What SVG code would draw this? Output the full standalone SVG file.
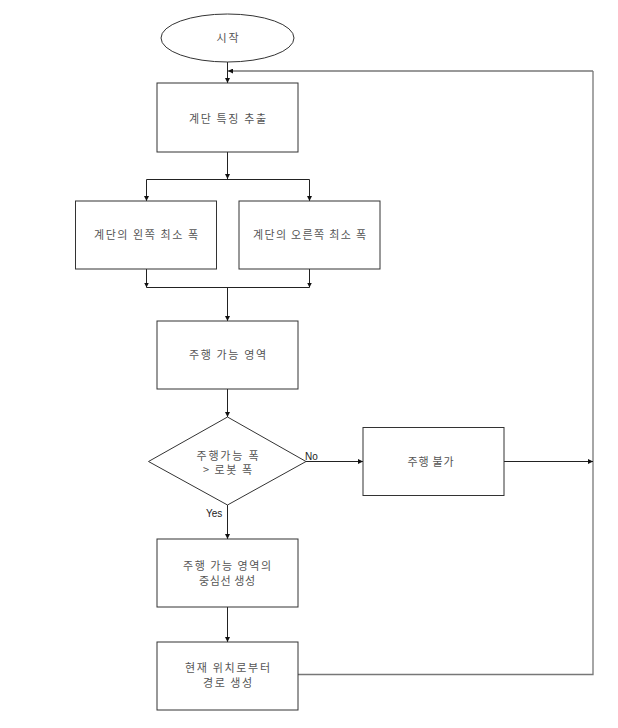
<svg xmlns="http://www.w3.org/2000/svg" width="618" height="728" viewBox="0 0 618 728">
<style>
.box{fill:#fff;stroke:#333;stroke-width:1}
.t{font-family:"Noto Sans CJK KR","Noto Sans",sans-serif;font-size:11px;fill:#555;text-anchor:middle}
.lbl{font-family:"Liberation Sans",Arial,sans-serif;font-size:10px;fill:#222}
.c{fill:none;stroke:#222;stroke-width:1}
.g{fill:none;stroke:#777;stroke-width:1.3}
</style>
<defs>
<marker id="a" markerWidth="5" markerHeight="5" refX="5" refY="2.5" orient="auto" markerUnits="userSpaceOnUse">
<path d="M0,0 L5,2.5 L0,5 z" fill="#111"/>
</marker>
</defs>
<rect width="618" height="728" fill="#fff"/>
<g id="connectors">
<path class="c" d="M227.5,62 V83" marker-end="url(#a)"/>
<path class="g" d="M298,674.5 H593 V71" />
<path class="c" d="M593,71 H228" marker-end="url(#a)" style="stroke:#777;stroke-width:1.3"/>
<path class="c" d="M504,461.5 H593" marker-end="url(#a)"/>
<path class="c" d="M227.5,152 V179" marker-end="url(#a)"/>
<path class="c" d="M146.5,179.5 H309.5"/>
<path class="c" d="M146.5,179.5 V201" marker-end="url(#a)"/>
<path class="c" d="M309.5,179.5 V201" marker-end="url(#a)"/>
<path class="c" d="M146.5,269 V287.5" marker-end="url(#a)"/>
<path class="c" d="M309.5,269 V287.5" marker-end="url(#a)"/>
<path class="c" d="M146.5,287.5 H309.5"/>
<path class="c" d="M227.5,287.5 V321" marker-end="url(#a)"/>
<path class="c" d="M227.5,389 V417" marker-end="url(#a)"/>
<path class="c" d="M306,461.5 H363" marker-end="url(#a)"/>
<path class="c" d="M227.5,505 V539" marker-end="url(#a)"/>
<path class="c" d="M227.5,607 V642" marker-end="url(#a)"/>
<text class="lbl" x="305" y="459.5">No</text>
<text class="lbl" x="206" y="517">Yes</text>
</g>
<g id="start">
<ellipse class="box" cx="227.5" cy="38" rx="66.5" ry="24"/>
<text class="t" x="227.5" y="42" textLength="22" lengthAdjust="spacing">시작</text>
</g>
<g id="extract">
<rect class="box" x="157" y="83" width="141" height="69"/>
<text class="t" x="227.5" y="123" textLength="77" lengthAdjust="spacing">계단 특징 추출</text>
</g>
<g id="left">
<rect class="box" x="75.5" y="201" width="141" height="68"/>
<text class="t" x="146" y="239" textLength="104" lengthAdjust="spacing">계단의 왼쪽 최소 폭</text>
</g>
<g id="right">
<rect class="box" x="239" y="201" width="141" height="68"/>
<text class="t" x="309.5" y="239" textLength="113" lengthAdjust="spacing">계단의 오른쪽 최소 폭</text>
</g>
<g id="area">
<rect class="box" x="157" y="321" width="141" height="68"/>
<text class="t" x="227.5" y="359" textLength="77" lengthAdjust="spacing">주행 가능 영역</text>
</g>
<g id="decision">
<polygon class="box" points="148.5,461.5 227.5,417 306,461.5 227.5,505"/>
<text class="t" x="227.5" y="459.5" textLength="62" lengthAdjust="spacing">주행가능 폭</text>
<text class="t" x="227.5" y="474" textLength="49" lengthAdjust="spacing">&gt; 로봇 폭</text>
</g>
<g id="impossible">
<rect class="box" x="363" y="427.5" width="141" height="68"/>
<text class="t" x="430.5" y="466" textLength="46" lengthAdjust="spacing">주행 불가</text>
</g>
<g id="centerline">
<rect class="box" x="157" y="539" width="141" height="68"/>
<text class="t" x="227" y="570" textLength="88" lengthAdjust="spacing">주행 가능 영역의</text>
<text class="t" x="227" y="584.5" textLength="56" lengthAdjust="spacing">중심선 생성</text>
</g>
<g id="path">
<rect class="box" x="157" y="642" width="141" height="68"/>
<text class="t" x="227.5" y="672" textLength="85" lengthAdjust="spacing">현재 위치로부터</text>
<text class="t" x="227.5" y="687" textLength="49" lengthAdjust="spacing">경로 생성</text>
</g>
</svg>
